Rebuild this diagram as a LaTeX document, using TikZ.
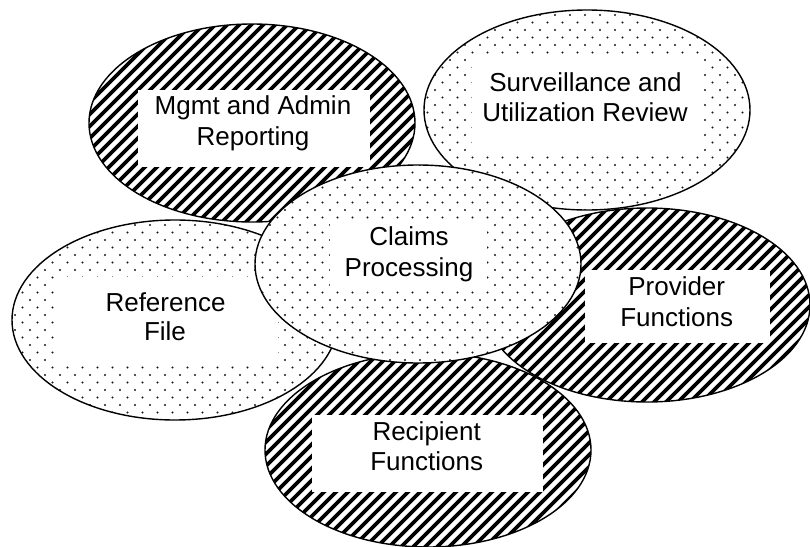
\documentclass[tikz,border=0pt]{standalone}
\usepackage{fontspec}
\setmainfont{Liberation Sans}
\begin{document}
\begin{tikzpicture}[x=1pt,y=-1pt,
  outline/.style={line width=1.4pt, draw=black},
  stripe/.style={line width=3.8pt, black},
  dotc/.style={fill=black!90},
  lbl/.style={anchor=base, inner sep=0pt, font=\fontsize{26}{31}\selectfont}]
\useasboundingbox (0,0) rectangle (810,546);

\newcommand\stripeEll[4]{%
  \begin{scope}
    \clip (#1,#2) ellipse [x radius=#3, y radius=#4];
    \fill[white] (#1-#3,#2-#4) rectangle (#1+#3,#2+#4);
    \pgfmathtruncatemacro\kmin{floor((#1-#3+#2-#4)/12)-1}
    \pgfmathtruncatemacro\kmax{ceil((#1+#3+#2+#4)/12)+1}
    \foreach \k in {\kmin,...,\kmax}{
      \draw[stripe] (12*\k-#2+#4+2, #2-#4-2) -- (12*\k-#2-#4-2, #2+#4+2);
    }
  \end{scope}}

\newcommand\dotEll[4]{%
  \begin{scope}
    \clip (#1,#2) ellipse [x radius=#3, y radius=#4];
    \fill[white] (#1-#3,#2-#4) rectangle (#1+#3,#2+#4);
    \pgfmathtruncatemacro\jmin{floor((#2-#4)/7.5)}
    \pgfmathtruncatemacro\jmax{ceil((#2+#4)/7.5)}
    \pgfmathtruncatemacro\imin{floor((#1-#3)/15)-1}
    \pgfmathtruncatemacro\imax{ceil((#1+#3)/15)}
    \foreach \j in {\jmin,...,\jmax}{
      \pgfmathsetmacro\off{mod(\j,2)*7.5}
      \foreach \i in {\imin,...,\imax}{
        \fill[dotc] (15*\i+\off, 7.5*\j) circle[radius=1.05];
      }
    }
  \end{scope}}

% Mgmt and Admin Reporting
\stripeEll{252}{123}{163}{99}
\fill[white] (138,90) rectangle (370,167);
\draw[outline] (252,123) ellipse [x radius=163, y radius=99];
\node[lbl] (m1) at (253,114) {Mgmt and Admin};
\node[lbl] (m2) at (253,145.5) {Reporting};

% Surveillance and Utilization Review
\dotEll{587}{110}{163}{100}
\fill[white] (472,58) rectangle (703,152);
\draw[outline] (587,110) ellipse [x radius=163, y radius=100];
\node[lbl] (s1) at (585.5,91.5) {Surveillance and};
\node[lbl] (s2) at (585,121.5) {Utilization Review};

% Reference File
\dotEll{175}{320}{163}{100}
\fill[white] (55,277) rectangle (278,363);
\draw[outline] (175,320) ellipse [x radius=163, y radius=100];
\node[lbl] (r1) at (165.5,311) {Reference};
\node[lbl] (r2) at (165,340) {File};

% Provider Functions
\stripeEll{647}{305}{163}{97}
\fill[white] (585,270) rectangle (770,343);
\draw[outline] (647,305) ellipse [x radius=163, y radius=97];
\node[lbl] (p1) at (676.7,295.7) {Provider};
\node[lbl] (p2) at (676.7,326) {Functions};

% Recipient Functions
\stripeEll{428}{450}{163}{97}
\fill[white] (312,415) rectangle (543,492);
\draw[outline] (428,450) ellipse [x radius=163, y radius=97];
\node[lbl] (q1) at (426.7,440) {Recipient};
\node[lbl] (q2) at (426.7,470) {Functions};

% Claims Processing
\dotEll{418}{264}{163}{99}
\fill[white] (330,222) rectangle (487,290);
\draw[outline] (418,264) ellipse [x radius=163, y radius=99];
\node[lbl] (c1) at (409,245) {Claims};
\node[lbl] (c2) at (409,276) {Processing};
\end{tikzpicture}
\end{document}
